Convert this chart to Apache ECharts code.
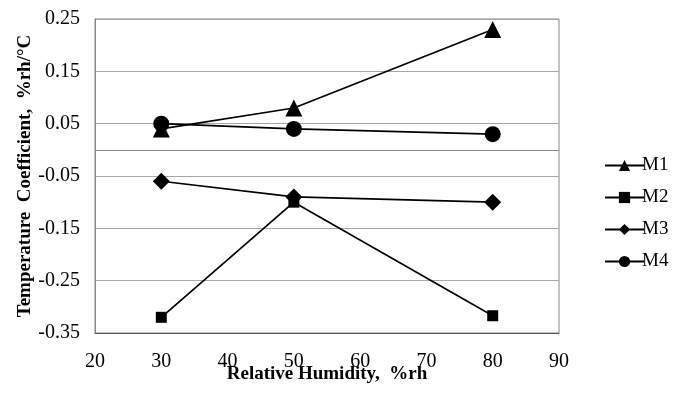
<!DOCTYPE html>
<html>
<head>
<meta charset="utf-8">
<script src="https://cdn.jsdelivr.net/npm/echarts@6/dist/echarts.min.js"></script>
<style>
  html, body { margin: 0; padding: 0; background: #fff; }
  #chart { width: 688px; height: 394px; }
</style>
</head>
<body>
<div id="chart"></div>
<script>
// humidity points (%rh)
var humidity = [30, 50, 80];
// temperature coefficient, %rh/°C
var m1 = [0.04, 0.08, 0.23];
var m2 = [-0.32, -0.10, -0.317];
var m3 = [-0.06, -0.09, -0.10];
var m4 = [0.05, 0.04, 0.03];
var names = ['M1', 'M2', 'M3', 'M4'];
var symbols = ['triangle', 'rect', 'diamond', 'circle'];
var symSizes = [17, 11, 17, 16];

var font = 'Liberation Serif';

function pairs(ys) {
    return humidity.map(function (x, i) { return [x, ys[i]]; });
}

var allData = [m1, m2, m3, m4];
var series = allData.map(function (ys, i) {
    var s = {
        name: names[i],
        type: 'line',
        data: pairs(ys),
        symbol: symbols[i],
        symbolSize: symSizes[i],
        itemStyle: { color: '#000' },
        lineStyle: { color: '#000', width: 1.7 },
        animation: false
    };
    if (i === 0) {
        // horizontal axis line crossing at zero
        s.markLine = {
            silent: true,
            symbol: 'none',
            label: { show: false },
            lineStyle: { color: '#8c8c8c', type: 'solid', width: 1 },
            data: [{ yAxis: 0 }]
        };
    }
    return s;
});

var chart = echarts.init(document.getElementById('chart'));
chart.setOption({
    backgroundColor: '#fff',
    textStyle: { fontFamily: font },
    grid: {
        left: 95, right: 129, top: 19, bottom: 61,
        outerBoundsMode: 'none',
        show: true, borderColor: '#868686', borderWidth: 1
    },
    legend: {
        orient: 'vertical',
        left: 599, top: 151,
        itemWidth: 39, itemHeight: 14, itemGap: 13,
        textStyle: { fontFamily: font, fontSize: 19, color: '#000', padding: [0, 0, 0, -7] },
        data: names
    },
    xAxis: {
        type: 'value',
        min: 20, max: 90, interval: 10,
        name: 'Relative Humidity,  %rh',
        nameLocation: 'middle', nameGap: 32, nameMoveOverlap: false,
        nameTextStyle: { fontFamily: font, fontWeight: 'bold', fontSize: 19, color: '#000' },
        axisLine: { onZero: false, lineStyle: { color: '#555', width: 1 } },
        axisTick: { show: false },
        axisLabel: { fontFamily: font, fontSize: 20, color: '#000', margin: 19 },
        splitLine: { show: false }
    },
    yAxis: {
        type: 'value',
        min: -0.35, max: 0.25, interval: 0.1,
        name: 'Temperature  Coefficient,  %rh/°C',
        nameLocation: 'middle', nameGap: 60, nameMoveOverlap: false,
        nameTextStyle: { fontFamily: font, fontWeight: 'bold', fontSize: 19, color: '#000' },
        axisLine: { show: true, lineStyle: { color: '#868686' } },
        axisTick: { show: false },
        axisLabel: {
            fontFamily: font, fontSize: 20, color: '#000', margin: 15,
            formatter: function (v) { return v.toFixed(2); }
        },
        splitLine: { show: true, lineStyle: { color: '#a6a6a6', width: 1 } }
    },
    series: series
});
</script>
</body>
</html>
